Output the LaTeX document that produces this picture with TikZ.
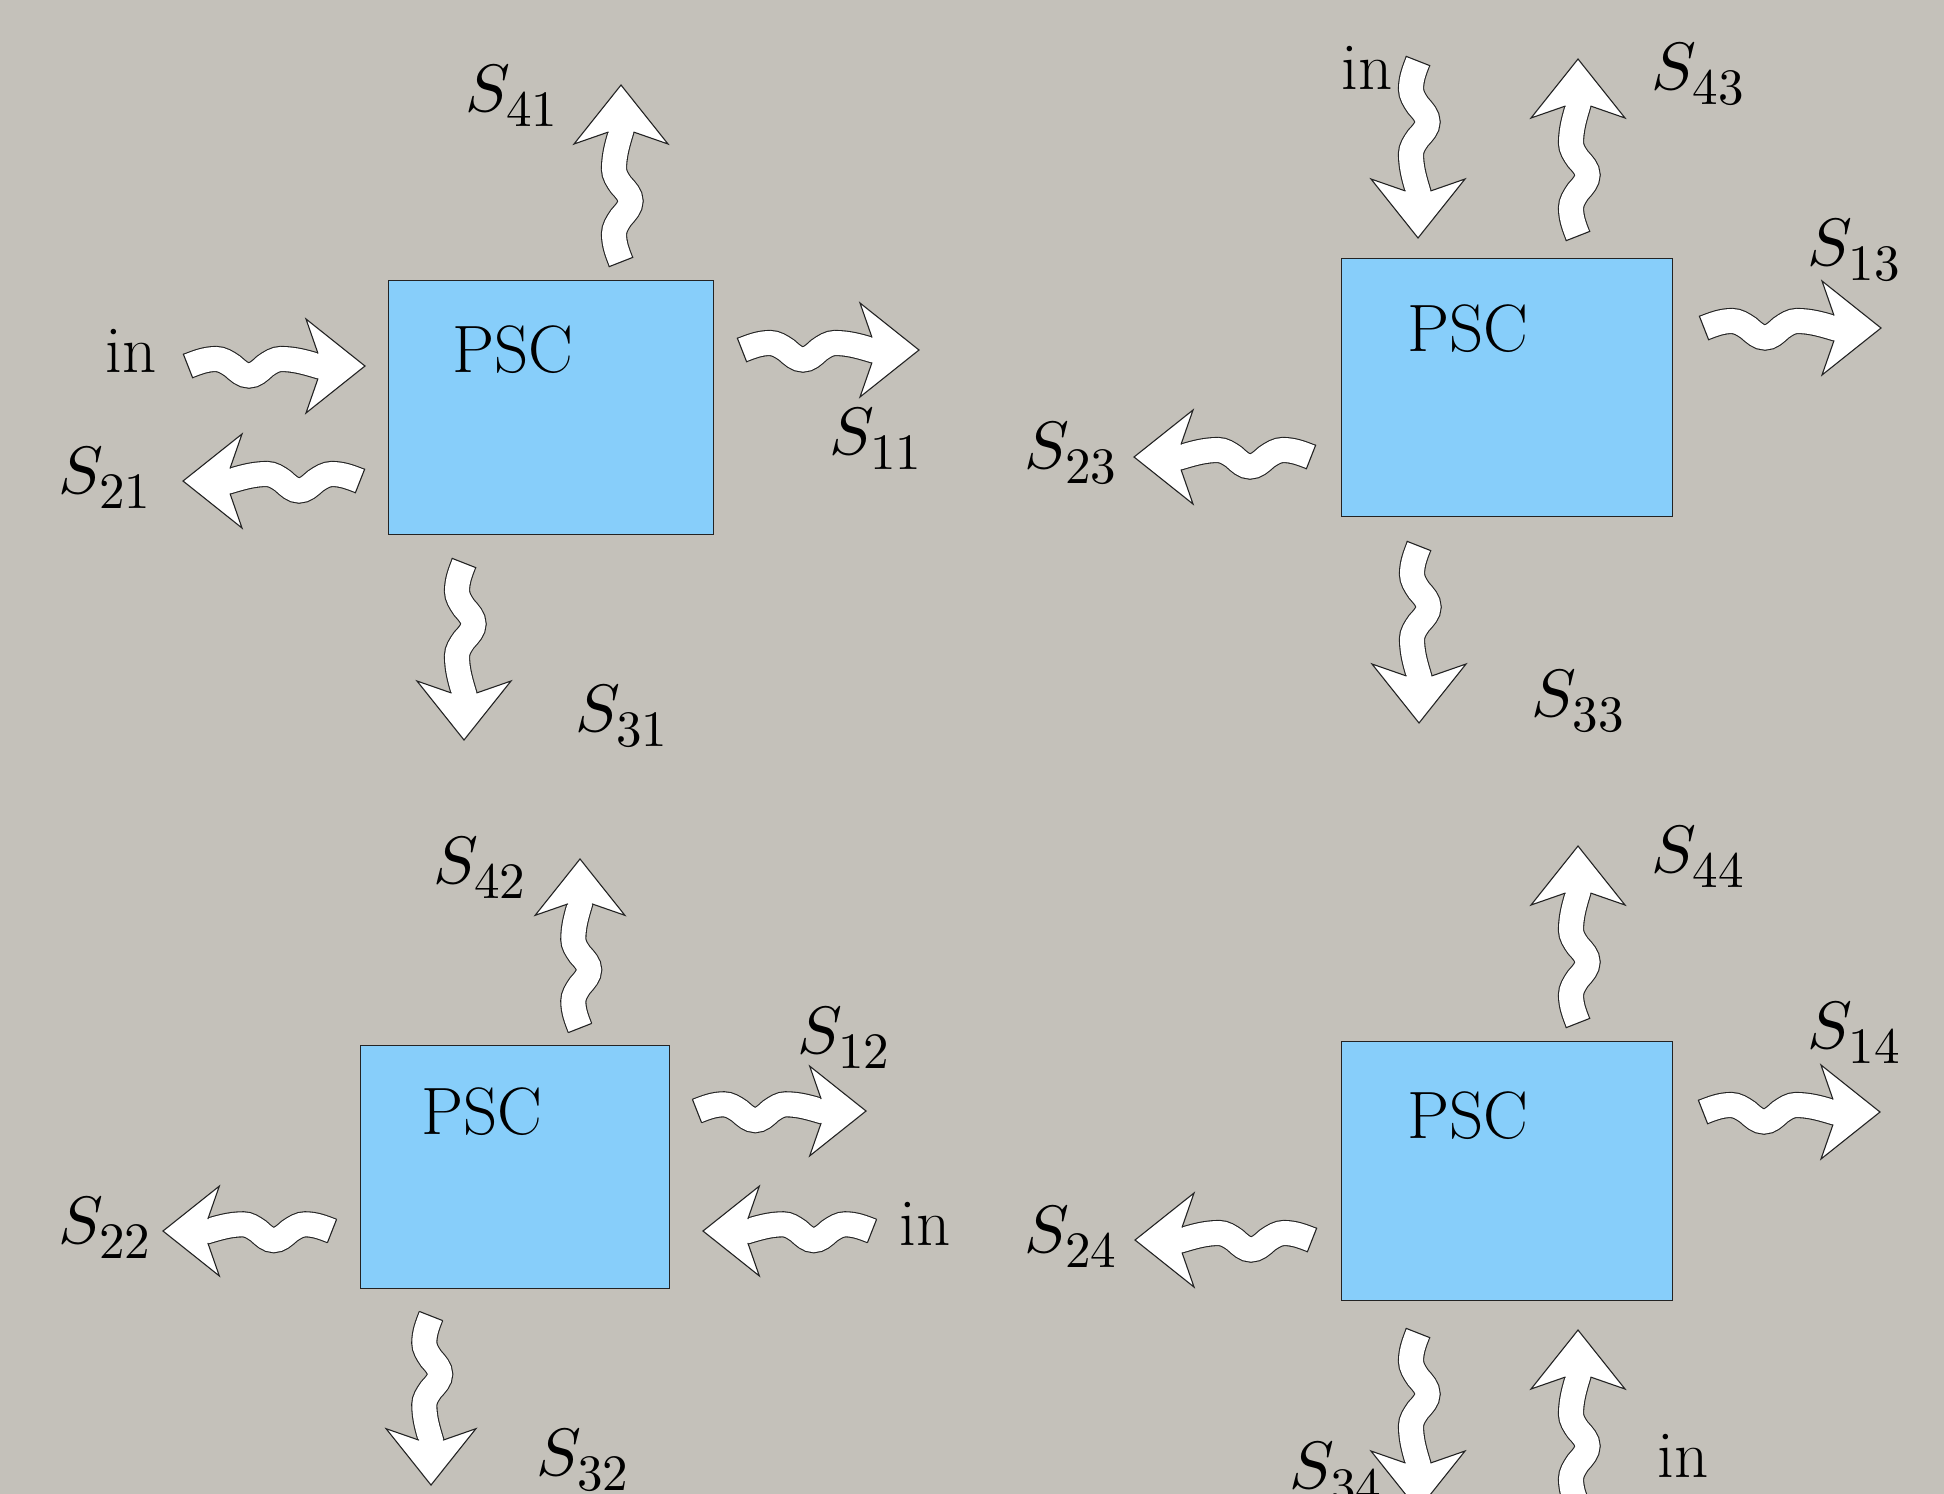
\documentclass[tikz,border=0pt]{standalone}
\usepackage{xcolor}
% scalable math fonts for the large labels
\DeclareFontShape{OML}{cmm}{m}{it}{<->cmmi10}{\skewchar\font'177}
\DeclareFontShape{OT1}{cmr}{m}{n}{<->cmr10}{}
\DeclareMathSizes{33.5}{33.5}{25.5}{20}
\definecolor{paper}{RGB}{196,193,186}
\definecolor{pscfill}{RGB}{135,206,250}
\definecolor{edge}{RGB}{35,35,35}
\tikzset{
  arrowline/.style={draw=edge, line width=0.55pt},
  pscbox/.style={draw=edge, line width=0.7pt, fill=pscfill},
  lbl/.style={inner sep=0pt, anchor=base west, font=\fontsize{33.5}{40}\selectfont},
  % wavy block arrow: tail centre at the origin, pointing along +x, 177 units long
  wavyarrow/.pic={
    \draw[arrowline, double=white, double distance=12pt, line cap=butt]
      (0,0) .. controls (9.36,-3.68) and (17.82,-7) .. (28,-7)
            .. controls (34.0,-7) and (38.98,-3.68) .. (44.5,0)
            .. controls (50.02,4.99) and (55.0,9.5) .. (61,9.5)
            .. controls (66.81,9.5) and (71.65,4.99) .. (77,0)
            .. controls (82.35,-3.68) and (87.19,-7) .. (93,-7)
            .. controls (106.45,-7) and (117.63,-3.68) .. (130,0)
            -- (138,2.4);
    \draw[arrowline, line cap=butt] (-4.79,-12.2) -- (4.79,12.2);
    \fill[white] (130,-12.5) -- (118,-47) -- (177,0) -- (118,47) -- (130,12.5) -- cycle;
    \draw[arrowline, line join=miter] (130,-12.5) -- (118,-47) -- (177,0) -- (118,47) -- (130,12.5);
  },
  goright/.style={},
  goleft/.style={xscale=-1},
  goup/.style={rotate=90},
  godown/.style={rotate=-90, yscale=-1}
}
\begin{document}
\begin{tikzpicture}[x=0.5pt, y=-0.5pt]
  \fill[paper] (0,0) rectangle (1944,1494);
  \useasboundingbox (0,0) rectangle (1944,1494);
  \clip (0,0) rectangle (1944,1494);

  % the four PSC blocks
  \node[pscbox, minimum width=162.5pt, minimum height=127pt, anchor=north west, inner sep=0pt] (b1) at (388,280) {};
  \node[pscbox, minimum width=165.5pt, minimum height=129pt, anchor=north west, inner sep=0pt] (b2) at (1341,258) {};
  \node[pscbox, minimum width=154.5pt, minimum height=121.5pt, anchor=north west, inner sep=0pt] (b3) at (360,1045) {};
  \node[pscbox, minimum width=165.5pt, minimum height=129.5pt, anchor=north west, inner sep=0pt] (b4) at (1341,1041) {};

  \node[lbl] (p1) at (452,372) {PSC};
  \node[lbl] (p2) at (1407,351) {PSC};
  \node[lbl] (p3) at (421,1134) {PSC};
  \node[lbl] (p4) at (1407,1138) {PSC};

  % labels (drawn first so that arrows lie on top of them)
  \node[lbl] (in1) at (105,372) {in};
  \node[lbl] (s21) at (58,493) {$S_{21}$};
  \node[lbl] (s41) at (465,111) {$S_{41}$};
  \node[lbl] (s11) at (829,454) {$S_{11}$};
  \node[lbl] (s31) at (575,731) {$S_{31}$};
  \node[lbl] (in2) at (1341,89) {in};
  \node[lbl] (s43) at (1651,89) {$S_{43}$};
  \node[lbl] (s13) at (1807,265) {$S_{13}$};
  \node[lbl] (s23) at (1024,468) {$S_{23}$};
  \node[lbl] (s33) at (1531,716) {$S_{33}$};
  \node[lbl] (s42) at (433,883) {$S_{42}$};
  \node[lbl] (s12) at (797,1053) {$S_{12}$};
  \node[lbl] (s22) at (58,1243) {$S_{22}$};
  \node[lbl] (in3) at (899,1245) {in};
  \node[lbl] (s32) at (536,1475) {$S_{32}$};
  \node[lbl] (s44) at (1651,872) {$S_{44}$};
  \node[lbl] (s14) at (1807,1048) {$S_{14}$};
  \node[lbl] (s24) at (1024,1252) {$S_{24}$};
  \node[lbl] (s34) at (1289,1488) {$S_{34}$};
  \node[lbl] (in4) at (1657,1477) {in};

  % block 1 arrows
  \pic[goright] at (188,366) {wavyarrow};
  \pic[goleft]  at (360,481) {wavyarrow};
  \pic[goright] at (742,350) {wavyarrow};
  \pic[goup]    at (621,262) {wavyarrow};
  \pic[godown]  at (464,563) {wavyarrow};

  % block 2 arrows
  \pic[godown]  at (1418,61) {wavyarrow};
  \pic[goup]    at (1578,236) {wavyarrow};
  \pic[goright] at (1704,328) {wavyarrow};
  \pic[goleft]  at (1311,457) {wavyarrow};
  \pic[godown]  at (1419,546) {wavyarrow};

  % block 3 arrows (slightly smaller)
  \begin{scope}[every pic/.style={scale=0.955}]
    \pic[goup]    at (580,1028) {wavyarrow};
    \pic[goright] at (697,1111) {wavyarrow};
    \pic[goleft]  at (872,1231) {wavyarrow};
    \pic[goleft]  at (332,1231) {wavyarrow};
    \pic[godown]  at (431,1316) {wavyarrow};
  \end{scope}

  % block 4 arrows
  \pic[goup]    at (1578,1023) {wavyarrow};
  \pic[goright] at (1703,1112) {wavyarrow};
  \pic[goleft]  at (1312,1240) {wavyarrow};
  \pic[godown]  at (1418,1333) {wavyarrow};
  \pic[goup]    at (1578,1507) {wavyarrow};
\end{tikzpicture}
\end{document}
